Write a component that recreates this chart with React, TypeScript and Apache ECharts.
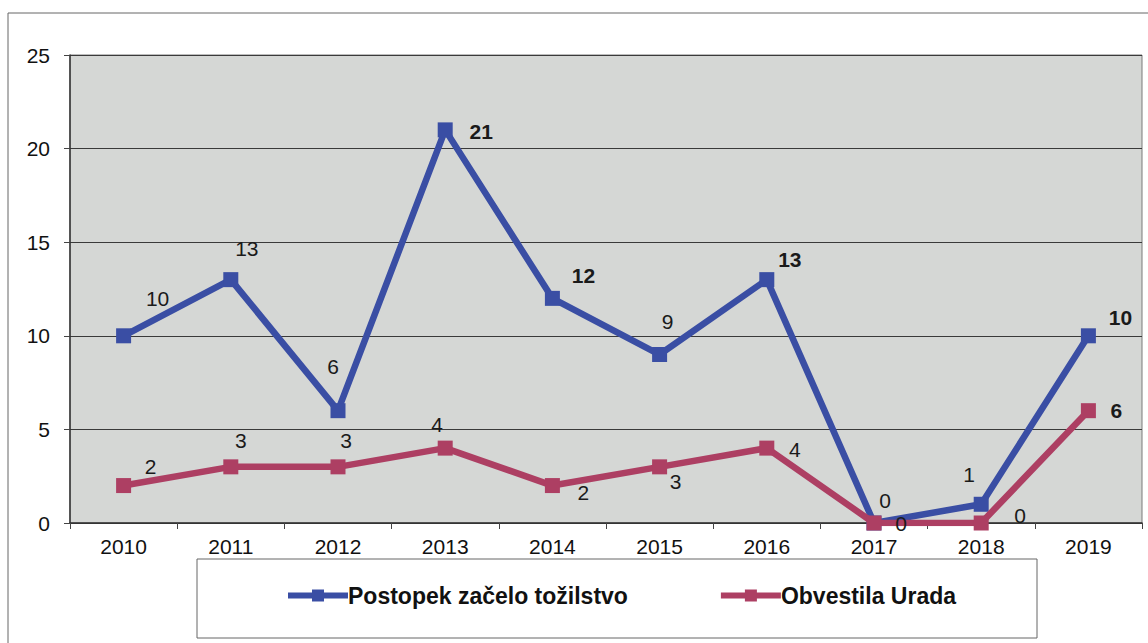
import React, { useEffect, useRef } from "react";
import * as echarts from "echarts";

const categories = ["2010", "2011", "2012", "2013", "2014", "2015", "2016", "2017", "2018", "2019"];
const yTicks = [0, 5, 10, 15, 20, 25];
const seriesNames = ["Postopek začelo tožilstvo", "Obvestila Urada"];
const prosecution = [10, 13, 6, 21, 12, 9, 13, 0, 1, 10];
const notices = [2, 3, 3, 4, 2, 3, 4, 0, 0, 6];

// label placement (offset from marker) and weight, as in the source picture
const prosecutionLabelOffsets = [[34, -37], [16, -31], [-5, -44], [36, 2], [31, -23], [8, -33], [23, -20], [11, -23], [-12, -30], [32, -18]];
const prosecutionLabelBold = [false, false, false, true, true, false, true, false, false, true];
const noticesLabelOffsets = [[27, -19], [10, -26], [8, -26], [-8, -24], [31, 7], [16, 15], [28, 1], [27, 0], [39, -8], [28, 0]];
const noticesLabelBold = [false, false, false, false, false, false, false, false, false, true];

const BLUE = "#3a4ea4";
const RED = "#ad3f63";
const FONT = "'Liberation Sans', Arial, sans-serif";

function buildData(values: number[], offsets: number[][], bold: boolean[]) {
  return values.map((v, i) => ({
    value: v,
    label: {
      offset: offsets[i],
      fontWeight: bold[i] ? "bold" : "normal",
    },
  }));
}

export default function App() {
  const ref = useRef<HTMLDivElement>(null);
  useEffect(() => {
    if (!ref.current) return;
    const chart = echarts.init(ref.current, undefined, { renderer: "svg" });
    const labelBase = {
      show: true,
      position: "inside",
      align: "center",
      verticalAlign: "middle",
      color: "#1a1a1a",
      fontSize: 21,
      fontFamily: FONT,
    };
    chart.setOption({
      animation: false,
      backgroundColor: "#ffffff",
      textStyle: { fontFamily: FONT },
      graphic: [
        {
          type: "rect",
          shape: { x: 8, y: 13, width: 1160, height: 660 },
          style: { fill: "none", stroke: "#666", lineWidth: 1 },
          z: -10,
        },
        {
          type: "rect",
          shape: { x: 197, y: 559, width: 840, height: 79 },
          style: { fill: "#ffffff", stroke: "#666", lineWidth: 1 },
          z: -5,
        },
      ],
      grid: {
        left: 70,
        right: 6,
        top: 55,
        bottom: 120,
        show: true,
        backgroundColor: "#d5d7d5",
        borderColor: "#7a7a7a",
        borderWidth: 1,
        outerBoundsMode: "none",
      },
      legend: {
        data: seriesNames,
        left: 285,
        top: 584,
        padding: 0,
        itemGap: 90,
        itemWidth: 60,
        itemHeight: 15,
        lineStyle: { width: 6 },
        textStyle: { fontSize: 23, fontWeight: "bold", color: "#111", fontFamily: FONT, padding: [0, 0, 0, -5] },
      },
      xAxis: {
        type: "category",
        data: categories,
        boundaryGap: true,
        axisLine: { lineStyle: { color: "#333", width: 1.5 } },
        axisTick: { show: true, length: 6, lineStyle: { color: "#444" } },
        axisLabel: { color: "#111", fontSize: 21, margin: 13, fontFamily: FONT },
        splitLine: { show: false },
      },
      yAxis: {
        type: "value",
        min: yTicks[0],
        max: yTicks[yTicks.length - 1],
        interval: 5,
        axisLine: { show: true, lineStyle: { color: "#333", width: 1.5 } },
        axisTick: { show: true, length: 6, lineStyle: { color: "#444" } },
        axisLabel: { color: "#111", fontSize: 21, margin: 20, fontFamily: FONT },
        splitLine: { show: true, lineStyle: { color: "#3a3a3a", width: 1 } },
      },
      series: [
        {
          name: seriesNames[0],
          type: "line",
          data: buildData(prosecution, prosecutionLabelOffsets, prosecutionLabelBold),
          symbol: "rect",
          symbolSize: 15,
          lineStyle: { color: BLUE, width: 6.5 },
          itemStyle: { color: BLUE },
          label: labelBase,
          z: 3,
        },
        {
          name: seriesNames[1],
          type: "line",
          data: buildData(notices, noticesLabelOffsets, noticesLabelBold),
          symbol: "rect",
          symbolSize: 15,
          lineStyle: { color: RED, width: 6.5 },
          itemStyle: { color: RED },
          label: labelBase,
          z: 4,
        },
      ],
    });
    return () => chart.dispose();
  }, []);
  return (
    <div
      ref={ref}
      style={{ position: "fixed", left: 0, top: 0, width: 1148, height: 643 }}
    />
  );
}
